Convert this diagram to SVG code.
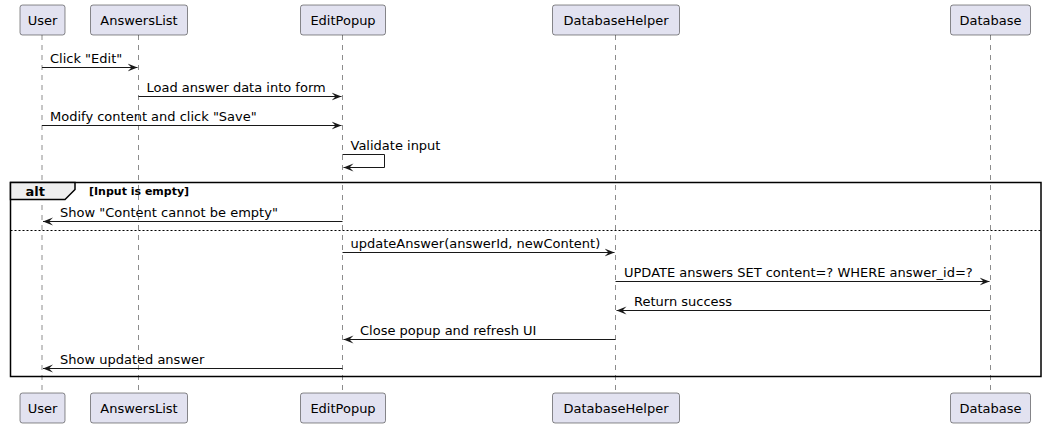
<svg xmlns="http://www.w3.org/2000/svg" width="1046" height="428" viewBox="0 0 1046 428">
<style>
.bg{fill:#FFFFFF}
.life{stroke:#181818;stroke-width:0.5;stroke-dasharray:5,5;fill:none}
.pbox{fill:#E2E2F0;stroke:#181818;stroke-width:0.5}
.ptxt{font-family:"DejaVu Sans",sans-serif;font-size:13px;fill:#000;text-anchor:middle}
.msg{stroke:#181818;stroke-width:1;fill:none}
.mtxt{font-family:"DejaVu Sans",sans-serif;font-size:13px;fill:#000}
.frame{fill:none;stroke:#000;stroke-width:1.5}
.tab{fill:#EEEEEE;stroke:#000;stroke-width:1.5}
.sep{stroke:#000;stroke-width:1;stroke-dasharray:2,2}
.alt{font-family:"DejaVu Sans",sans-serif;font-size:13px;font-weight:bold;fill:#000}
.cond{font-family:"DejaVu Sans",sans-serif;font-size:11px;font-weight:bold;fill:#000}
</style>
<defs>
<marker id="ah" viewBox="0 0 11 10" refX="10" refY="5" markerWidth="11" markerHeight="10" markerUnits="userSpaceOnUse" orient="auto">
<path d="M10,5 L0,1 L4,5 L0,9 Z" fill="#181818"/>
</marker>
</defs>
<rect class="bg" x="0" y="0" width="1046" height="428"/>
<g id="lifelines">
<line class="life" x1="42" y1="35" x2="42" y2="393"/>
<line class="life" x1="138.5" y1="35" x2="138.5" y2="393"/>
<line class="life" x1="342.5" y1="35" x2="342.5" y2="393"/>
<line class="life" x1="615.5" y1="35" x2="615.5" y2="393"/>
<line class="life" x1="990.5" y1="35" x2="990.5" y2="393"/>
</g>
<g id="alt-frame">
<rect class="frame" x="10.5" y="182.5" width="1030.5" height="194"/>
<path class="tab" d="M10.5,182.5 L75,182.5 L75,189.5 L65,199.5 L10.5,199.5 Z"/>
<text class="alt" x="25.5" y="195.5">alt</text>
<text class="cond" x="89" y="194.5">[Input is empty]</text>
<line class="sep" x1="10.5" y1="230.5" x2="1041" y2="230.5"/>
</g>
<g id="User">
<rect class="pbox" x="20" y="5" width="45" height="30" rx="2.5"/>
<text class="ptxt" x="42.5" y="25">User</text>
<rect class="pbox" x="20" y="393" width="45" height="30" rx="2.5"/>
<text class="ptxt" x="42.5" y="413">User</text>
</g>
<g id="AnswersList">
<rect class="pbox" x="90.5" y="5" width="97" height="30" rx="2.5"/>
<text class="ptxt" x="139" y="25">AnswersList</text>
<rect class="pbox" x="90.5" y="393" width="97" height="30" rx="2.5"/>
<text class="ptxt" x="139" y="413">AnswersList</text>
</g>
<g id="EditPopup">
<rect class="pbox" x="300.5" y="5" width="85" height="30" rx="2.5"/>
<text class="ptxt" x="343" y="25">EditPopup</text>
<rect class="pbox" x="300.5" y="393" width="85" height="30" rx="2.5"/>
<text class="ptxt" x="343" y="413">EditPopup</text>
</g>
<g id="DatabaseHelper">
<rect class="pbox" x="552.5" y="5" width="127" height="30" rx="2.5"/>
<text class="ptxt" x="616" y="25">DatabaseHelper</text>
<rect class="pbox" x="552.5" y="393" width="127" height="30" rx="2.5"/>
<text class="ptxt" x="616" y="413">DatabaseHelper</text>
</g>
<g id="Database">
<rect class="pbox" x="950.5" y="5" width="80" height="30" rx="2.5"/>
<text class="ptxt" x="990.5" y="25">Database</text>
<rect class="pbox" x="950.5" y="393" width="80" height="30" rx="2.5"/>
<text class="ptxt" x="990.5" y="413">Database</text>
</g>
<g id="connectors">
<line class="msg" x1="42" y1="67.5" x2="137.5" y2="67.5" marker-end="url(#ah)"/>
<text class="mtxt" x="50" y="62.5">Click "Edit"</text>
<line class="msg" x1="138.5" y1="96.5" x2="341.5" y2="96.5" marker-end="url(#ah)"/>
<text class="mtxt" x="146.5" y="91.5">Load answer data into form</text>
<line class="msg" x1="42" y1="125.5" x2="341.5" y2="125.5" marker-end="url(#ah)"/>
<text class="mtxt" x="50" y="120.5">Modify content and click "Save"</text>
<polyline class="msg" points="342.5,154.5 384.5,154.5 384.5,167.5 343.5,167.5" marker-end="url(#ah)"/>
<text class="mtxt" x="350.5" y="149.5">Validate input</text>
<line class="msg" x1="342.5" y1="221.5" x2="43" y2="221.5" marker-end="url(#ah)"/>
<text class="mtxt" x="60" y="216.5">Show "Content cannot be empty"</text>
<line class="msg" x1="342.5" y1="252.5" x2="614.5" y2="252.5" marker-end="url(#ah)"/>
<text class="mtxt" x="350.5" y="247.5">updateAnswer(answerId, newContent)</text>
<line class="msg" x1="615.5" y1="281.5" x2="989.5" y2="281.5" marker-end="url(#ah)"/>
<text class="mtxt" x="624" y="276.5">UPDATE answers SET content=? WHERE answer_id=?</text>
<line class="msg" x1="990.5" y1="310.5" x2="616.5" y2="310.5" marker-end="url(#ah)"/>
<text class="mtxt" x="634" y="305.5">Return success</text>
<line class="msg" x1="615.5" y1="339.5" x2="343.5" y2="339.5" marker-end="url(#ah)"/>
<text class="mtxt" x="360" y="334.5">Close popup and refresh UI</text>
<line class="msg" x1="342.5" y1="368.5" x2="43" y2="368.5" marker-end="url(#ah)"/>
<text class="mtxt" x="60" y="363.5">Show updated answer</text>
</g>
</svg>
